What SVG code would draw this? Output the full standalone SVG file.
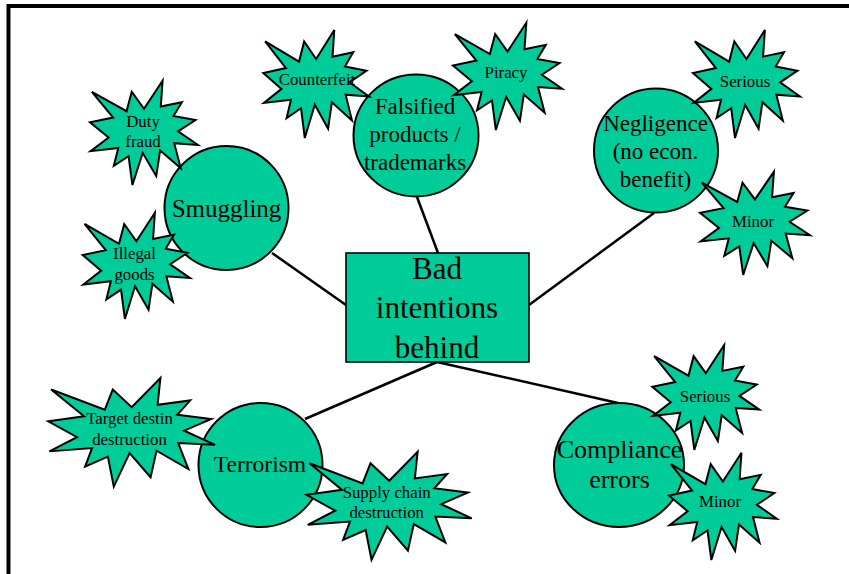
<svg xmlns="http://www.w3.org/2000/svg" xmlns:xlink="http://www.w3.org/1999/xlink" width="849" height="574" viewBox="0 0 849 574">
  <style>
    .fill { fill: #00CC99; stroke: #000; stroke-width: 2; }
    .box { fill: #00CC99; stroke: #000; stroke-width: 1.6; }
    .seal { fill: #00CC99; stroke: #000; stroke-width: 2; stroke-linejoin: miter; vector-effect: non-scaling-stroke; }
    .link { stroke: #000; stroke-width: 2.5; fill: none; }
    text { font-family: "Liberation Serif", "Times New Roman", serif; fill: #000; text-anchor: middle; }
    .t-main { font-size: 31px; }
    .t-topic { font-size: 23px; }
    .t-leaf { font-size: 16.8px; }
  </style>
  <defs>
    <!-- irregular explosion outline in a 216 x 216 box -->
    <path id="seal" class="seal" d="M108,58 L145.22,0 L141.55,53.25 L183.8,44.57 L167.02,73.15 L210.97,81.37 L176.07,104.75 L216,132.9 L168.37,129.42 L181.45,180.95 L140.2,144.57 L132.47,197.37 L105.32,149.35 L84.85,216 L77.15,156.27 L47.62,176.17 L56.67,139.37 L1.35,145.87 L37.22,117.75 L0,86.15 L46.27,76.17 L3.7,22.95 L73.12,63.2 L83.52,22.95 Z"/>
  </defs>

  <!-- outer frame -->
  <rect x="8.5" y="6" width="900" height="700" fill="none" stroke="#000" stroke-width="4"/>

  <g id="connectors">
    <line class="link" x1="272" y1="253" x2="346" y2="305"/>
    <line class="link" x1="417" y1="197" x2="438" y2="253"/>
    <line class="link" x1="654" y1="213" x2="529" y2="305"/>
    <line class="link" x1="437" y1="362" x2="305" y2="419"/>
    <line class="link" x1="437" y1="362" x2="618" y2="403"/>
  </g>

  <g id="bad-intentions">
    <rect class="box" x="346" y="253" width="183" height="109"/>
    <text class="t-main" x="437" y="279">Bad</text>
    <text class="t-main" x="437" y="318">intentions</text>
    <text class="t-main" x="437" y="358">behind</text>
  </g>

  <g id="smuggling">
    <circle class="fill" cx="226.5" cy="208" r="62"/>
    <text x="226.5" y="217" style="font-size:25px">Smuggling</text>
  </g>

  <g id="falsified">
    <ellipse class="fill" cx="416" cy="135.5" rx="62.5" ry="61"/>
    <text class="t-topic" x="415" y="114">Falsified</text>
    <text class="t-topic" x="415" y="142">products /</text>
    <text class="t-topic" x="415" y="170">trademarks</text>
  </g>

  <g id="negligence">
    <circle class="fill" cx="656" cy="150.5" r="62"/>
    <text class="t-topic" x="655.5" y="130.5">Negligence</text>
    <text class="t-topic" x="655.5" y="158.5">(no econ.</text>
    <text class="t-topic" x="655.5" y="186.5">benefit)</text>
  </g>

  <g id="terrorism">
    <circle class="fill" cx="260.5" cy="465" r="62"/>
    <text x="260" y="472" style="font-size:23.5px">Terrorism</text>
  </g>

  <g id="compliance">
    <ellipse class="fill" cx="619" cy="465" rx="65" ry="62"/>
    <text x="619.5" y="458" style="font-size:26px">Compliance</text>
    <text x="619.5" y="488" style="font-size:26px">errors</text>
  </g>

  <g id="duty-fraud">
    <use xlink:href="#seal" transform="translate(90 80.7) scale(0.5 0.483)"/>
    <text class="t-leaf" x="143" y="127">Duty</text>
    <text class="t-leaf" x="143" y="147">fraud</text>
  </g>

  <g id="illegal-goods">
    <use xlink:href="#seal" transform="translate(82.7 212.7) scale(0.497 0.492)"/>
    <text class="t-leaf" x="134.5" y="259">Illegal</text>
    <text class="t-leaf" x="134.5" y="280">goods</text>
  </g>

  <g id="counterfeit">
    <use xlink:href="#seal" transform="translate(263.3 30) scale(0.489 0.5)"/>
    <text class="t-leaf" x="317" y="85">Counterfeit</text>
  </g>

  <g id="piracy">
    <use xlink:href="#seal" transform="translate(453 22.7) scale(0.505 0.497)"/>
    <text class="t-leaf" x="506" y="78">Piracy</text>
  </g>

  <g id="negligence-serious">
    <use xlink:href="#seal" transform="translate(693 30) scale(0.495 0.5)"/>
    <text class="t-leaf" x="745" y="86.7">Serious</text>
  </g>

  <g id="negligence-minor">
    <use xlink:href="#seal" transform="translate(700 171.7) scale(0.509 0.478)"/>
    <text class="t-leaf" x="753" y="226.7">Minor</text>
  </g>

  <g id="target-destruction">
    <use xlink:href="#seal" transform="translate(48.3 378) scale(0.772 0.503)"/>
    <text class="t-leaf" x="129.5" y="424">Target destin</text>
    <text class="t-leaf" x="129.5" y="445">destruction</text>
  </g>

  <g id="supply-chain">
    <use xlink:href="#seal" transform="translate(306.7 451.7) scale(0.764 0.501)"/>
    <text class="t-leaf" x="386.7" y="498">Supply chain</text>
    <text class="t-leaf" x="386.7" y="518">destruction</text>
  </g>

  <g id="compliance-serious">
    <use xlink:href="#seal" transform="translate(652.3 345) scale(0.495 0.486)"/>
    <text class="t-leaf" x="705" y="401.7">Serious</text>
  </g>

  <g id="compliance-minor">
    <use xlink:href="#seal" transform="translate(669 452.7) scale(0.499 0.497)"/>
    <text class="t-leaf" x="720" y="506.7">Minor</text>
  </g>
</svg>
